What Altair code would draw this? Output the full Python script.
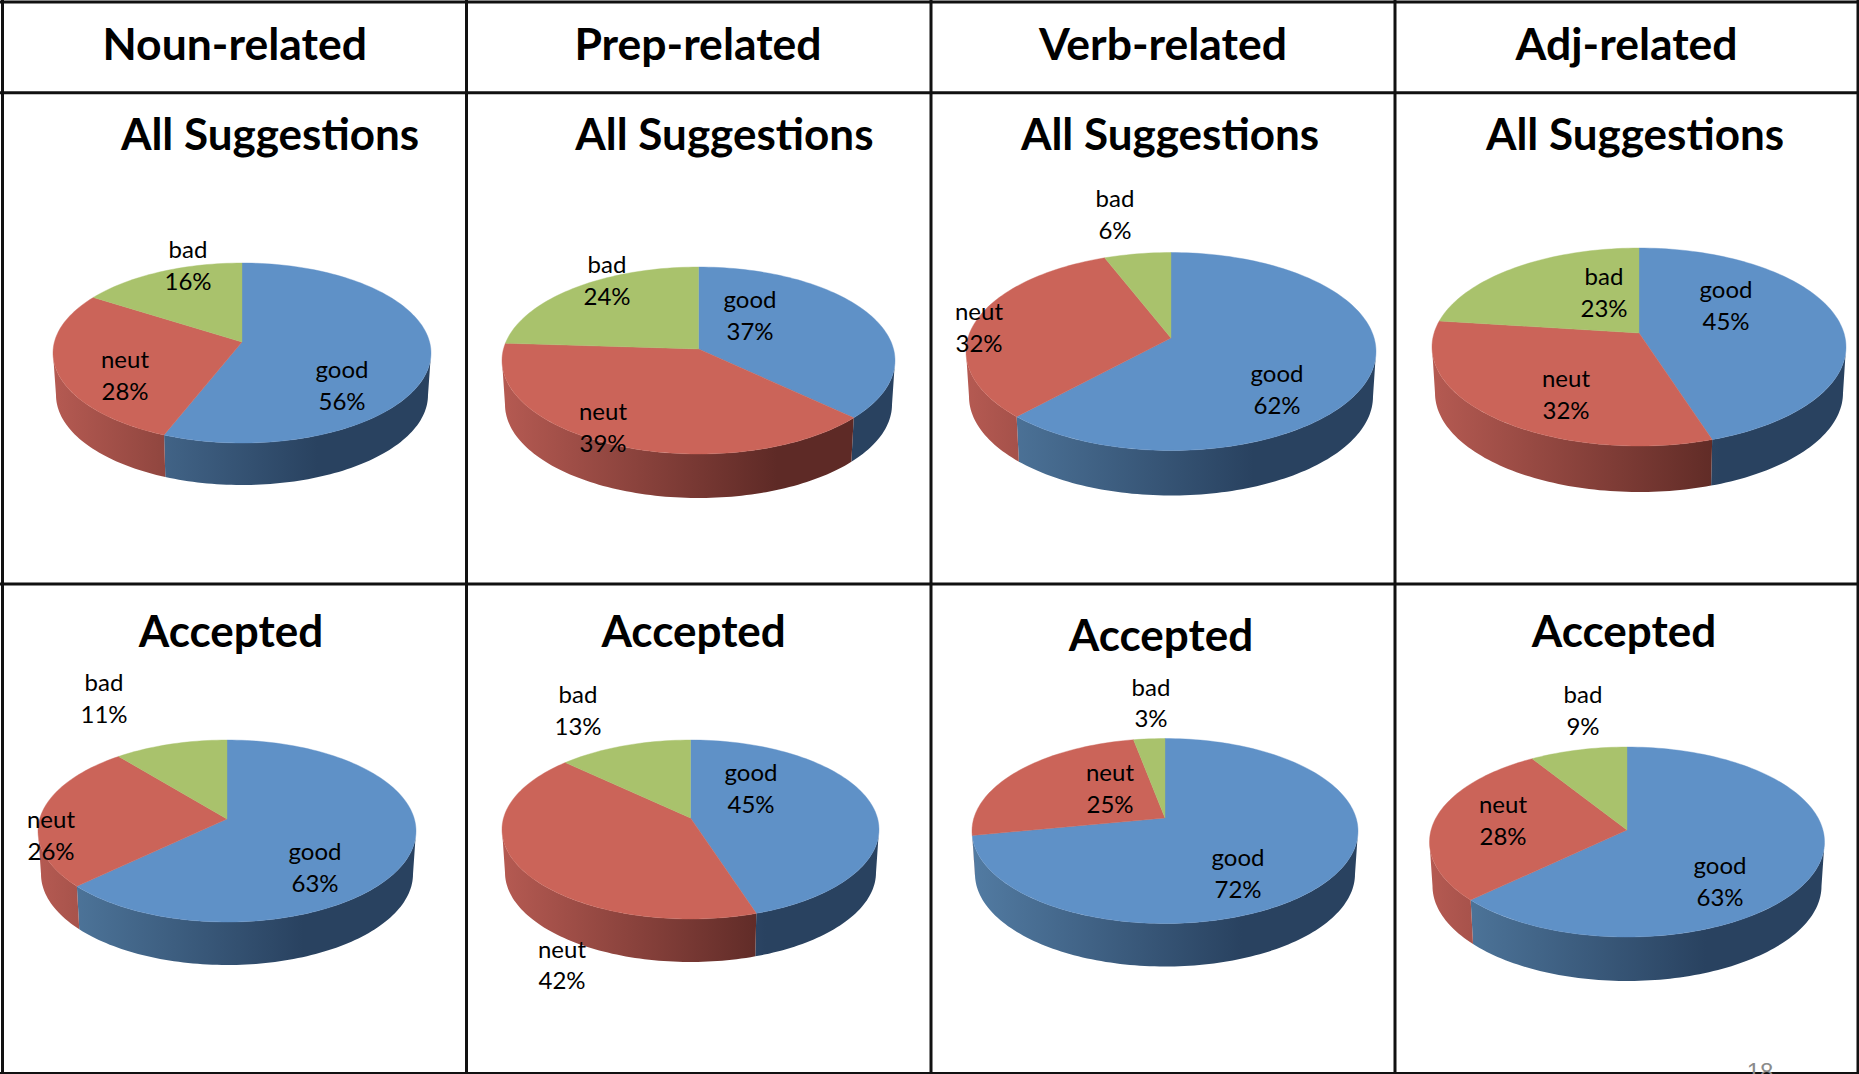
import math
import altair as alt

# Percent shares per panel, top row then bottom row
categories = ["Noun-related", "Prep-related", "Verb-related", "Adj-related"]
row_titles = ["All Suggestions", "Accepted"]
slices = ["good", "neut", "bad"]
good_all = [56, 37, 62, 45]
neut_all = [28, 39, 32, 32]
bad_all = [16, 24, 6, 23]
good_accepted = [63, 45, 72, 63]
neut_accepted = [26, 42, 25, 28]
bad_accepted = [11, 13, 3, 9]

# Layout, in pixels: cx, cy, rx, ry, apex y, depth
PIE_GEOMETRY = [
    [(242, 353, 189, 90, 342, 42), (698.5, 360.5, 196.5, 93.5, 349, 44),
     (1171, 351.5, 205, 99, 338, 45), (1639, 347, 207, 99, 333, 46)],
    [(227, 831, 189, 91, 819, 43), (690.5, 829.5, 188.5, 89.5, 818, 43),
     (1165, 831, 193, 92.5, 818, 43), (1627, 842, 197.5, 95, 830, 44)],
]
# Label centres per panel as (good, neut, bad)
LABEL_POS = [
    [((342, 387), (125, 377), (188, 267)), ((750, 317), (603, 429), (607, 282)),
     ((1277, 391), (979, 329), (1115, 216)), ((1726, 307), (1566, 396), (1604, 294))],
    [((315, 869), (51, 837), (104, 700)), ((751, 790), (562, 966.5), (578, 712)),
     ((1238, 875), (1110, 790), (1151, 704.5)), ((1720, 883), (1503, 822), (1583, 712))],
]
HEADER_X = [234.7, 698, 1163, 1626.6]
ROW_TITLE_POS = [
    [(270, 137), (724.4, 137), (1170, 137), (1635, 137)],
    [(231, 634), (693.6, 634), (1161, 637.5), (1624, 634)],
]
V_LINES = [2.5, 466.5, 931, 1395, 1858]
H_LINES = [2, 92.7, 584, 1073.5]
LINE_GAP = 31.5

TOP_COLORS = ["#5f91c7", "#cb6459", "#a9c26c"]
SIDE_LIGHT = [(82, 123, 162), (181, 90, 82)]
SIDE_DARK = [(41, 66, 96), (94, 42, 38)]
KNEE = 0.7
W, H = 1859, 1074

PROJECTION = dict(type="identity", scale=1, translate=[0, 0])


def rim(geo, phi, lower=False):
    cx, cy, rx, ry, _, depth = geo
    t = math.radians(phi)
    if lower:
        return [cx + (rx - 3) * math.sin(t), cy + depth - ry * math.cos(t)]
    return [cx + rx * math.sin(t), cy - ry * math.cos(t)]


def seen_angle(geo, share_angle):
    """Tilted-view angle on the rim for a slice boundary: the disc's centre
    appears above the ellipse's centre, so nearer slices look wider."""
    if share_angle <= 0 or share_angle >= 360:
        return share_angle
    e = (geo[1] - geo[4]) / geo[3]
    t = math.radians(share_angle)
    den = 1 + e * math.cos(t)
    u = math.sin(t) * math.sqrt(1 - e * e) / den
    v = (math.cos(t) + e) / den
    return math.degrees(math.atan2(u, v)) % 360


def sweep(a, b):
    n = max(2, int(abs(b - a) / 1.5))
    return [a + (b - a) * i / n for i in range(n + 1)]


def polygon(ring, **props):
    return {"type": "Feature", "properties": props,
            "geometry": {"type": "Polygon", "coordinates": [ring + [ring[0]]]}}


def shade(idx, t):
    k = min(max(t, 0) / KNEE, 1)
    c = [round(l + (d - l) * k) for l, d in zip(SIDE_LIGHT[idx], SIDE_DARK[idx])]
    return "#%02x%02x%02x" % tuple(c)


shares = [[good_all, neut_all, bad_all], [good_accepted, neut_accepted, bad_accepted]]
top_faces, side_layers, label_rows = [], [], []

for row in range(2):
    for col in range(4):
        geo = PIE_GEOMETRY[row][col]
        start = 0.0
        for s, name in enumerate(slices):
            share = shares[row][s][col]
            end = start + share * 3.6
            phi0, phi1 = seen_angle(geo, start), seen_angle(geo, end)
            if s == 2:
                phi1 = 360.0
            ring = [[geo[0], geo[4]]] + [rim(geo, t) for t in sweep(phi0, phi1)]
            top_faces.append(polygon(ring, slice=name))
            a, b = max(phi0, 90), min(phi1, 270)
            if b > a and s < 2:
                wall = [rim(geo, t) for t in sweep(a, b)]
                wall += [rim(geo, t, True) for t in sweep(b, a)]
                # the wall is shaded along the width of the whole pie
                xs = [p[0] for p in wall]
                cx, _, rx = geo[:3]
                ta, tb = (min(xs) - cx + rx) / (2 * rx), (max(xs) - cx + rx) / (2 * rx)
                stops = [alt.GradientStop(color=shade(s, ta), offset=0)]
                if ta < KNEE < tb:
                    stops.append(alt.GradientStop(color=shade(s, KNEE), offset=(KNEE - ta) / (tb - ta)))
                stops.append(alt.GradientStop(color=shade(s, tb), offset=1))
                fill = alt.LinearGradient(gradient="linear", stops=stops, x1=0, x2=1, y1=0, y2=0)
                side_layers.append(
                    alt.Chart(alt.Data(values=[polygon(wall, slice=name)]))
                    .mark_geoshape(fill=fill, strokeWidth=0)
                    .project(**PROJECTION)
                )
            lx, ly = LABEL_POS[row][col][s]
            label_rows.append({"x": lx, "y": ly - LINE_GAP / 2, "t": name})
            label_rows.append({"x": lx, "y": ly + LINE_GAP / 2, "t": f"{share}%"})
            start = end

tops = (
    alt.Chart(alt.Data(values=top_faces))
    .mark_geoshape(strokeWidth=0.4)
    .encode(
        fill=alt.Fill("properties.slice:N", scale=alt.Scale(domain=slices, range=TOP_COLORS), legend=None),
        stroke=alt.Stroke("properties.slice:N", scale=alt.Scale(domain=slices, range=TOP_COLORS), legend=None),
    )
    .project(**PROJECTION)
)

grid_lines = [
    {"type": "Feature", "properties": {},
     "geometry": {"type": "LineString", "coordinates": [[x, 0], [x, H]]}} for x in V_LINES
] + [
    {"type": "Feature", "properties": {},
     "geometry": {"type": "LineString", "coordinates": [[0, y], [W, y]]}} for y in H_LINES
]
grid = (
    alt.Chart(alt.Data(values=grid_lines))
    .mark_geoshape(filled=False, stroke="#111111", strokeWidth=3)
    .project(**PROJECTION)
)


def text_layer(rows, **style):
    return (
        alt.Chart(alt.Data(values=rows))
        .mark_text(baseline="middle", align="center", **style)
        .encode(longitude="x:Q", latitude="y:Q", text="t:N")
        .project(**PROJECTION)
    )


header_rows = [{"x": x, "y": 47, "t": t} for x, t in zip(HEADER_X, categories)]
title_rows = [
    {"x": ROW_TITLE_POS[r][c][0], "y": ROW_TITLE_POS[r][c][1], "t": row_titles[r]}
    for r in range(2) for c in range(4)
]

chart = alt.layer(
    *side_layers,
    tops,
    grid,
    text_layer(header_rows, font="Lato", fontWeight="bold", fontSize=44.5, color="#000000"),
    text_layer(title_rows, font="Lato", fontWeight="bold", fontSize=44, color="#000000"),
    text_layer(label_rows, font="Lato", fontSize=24, color="#000000"),
    text_layer([{"x": 1760, "y": 1073, "t": "18"}], font="Liberation Sans", fontSize=24, color="#8b8b8b"),
).properties(
    width=W, height=H, padding=0, background="white",
    autosize=alt.AutoSizeParams(type="none"),
).configure_view(stroke=None)

chart.save("out.html", embed_options={"renderer": "svg", "actions": False})
